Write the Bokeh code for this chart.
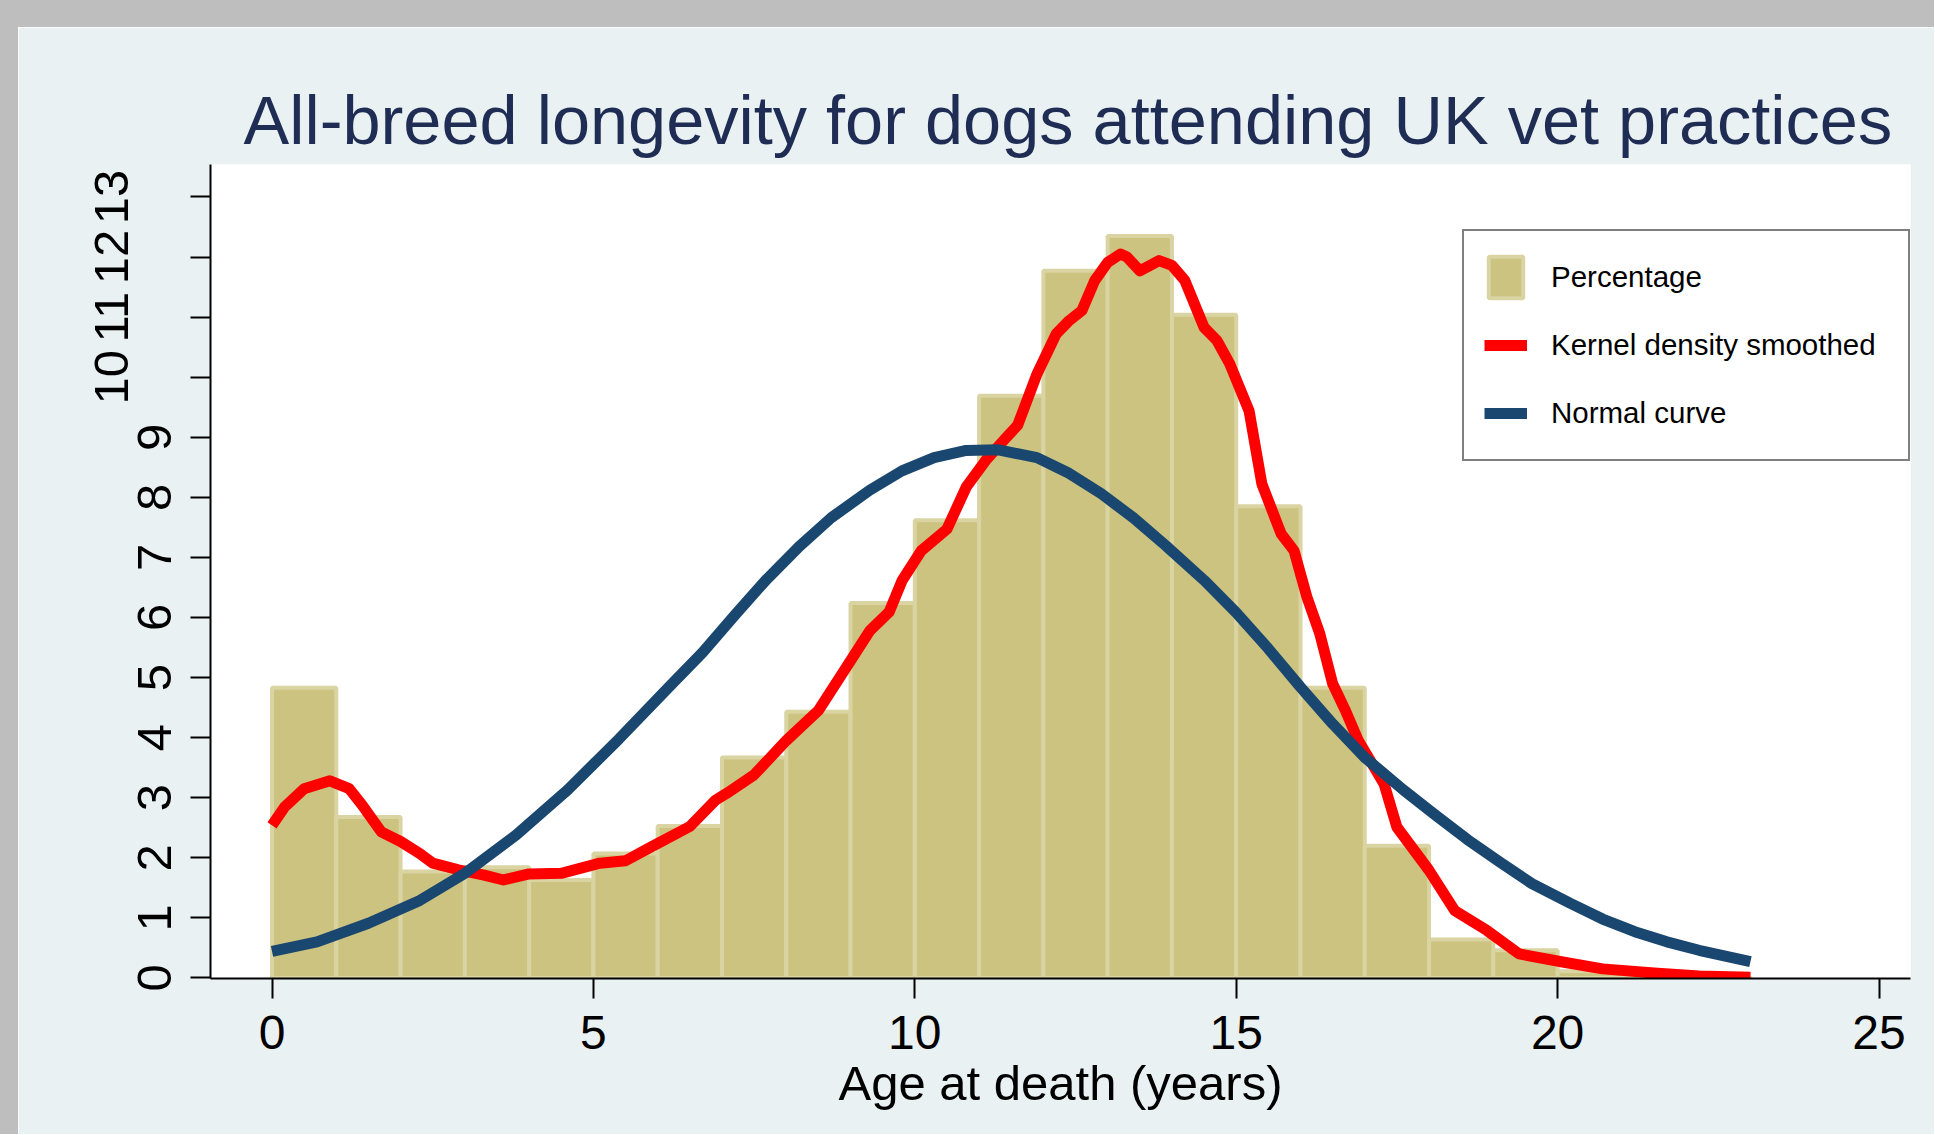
from bokeh.plotting import figure
from bokeh.models import Range1d, FixedTicker, LinearAxis, Legend, LegendItem, Spacer
from bokeh.layouts import column, row
from bokeh.embed import file_html
from bokeh.resources import INLINE

# ---------------- data ----------------
bin_start = [0, 1, 2, 3, 4, 5, 6, 7, 8, 9, 10, 11, 12, 13, 14, 15, 16, 17, 18, 19, 20, 21, 22]
bin_end = [1, 2, 3, 4, 5, 6, 7, 8, 9, 10, 11, 12, 13, 14, 15, 16, 17, 18, 19, 20, 21, 22, 23]
percentage = [4.83, 2.68, 1.77, 1.84, 1.63, 2.07, 2.53, 3.67, 4.43, 6.24, 7.62, 9.69,
              11.77, 12.35, 11.04, 7.85, 4.83, 2.20, 0.64, 0.46, 0.11, 0.03, 0.01]

kde_age = [0.0, 0.2, 0.5, 0.9, 1.2, 1.4, 1.7, 2.0, 2.3, 2.5,
           2.9, 3.3, 3.6, 4.0, 4.5, 5.1, 5.5, 5.9, 6.5, 6.9,
           7.1, 7.5, 8.0, 8.5, 9.0, 9.3, 9.6, 9.8, 10.1, 10.5,
           10.8, 11.1, 11.4, 11.6, 11.9, 12.2, 12.4, 12.6, 12.8, 13.0,
           13.2, 13.3, 13.5, 13.8, 14.0, 14.2, 14.5, 14.7, 14.9, 15.2,
           15.4, 15.7, 15.9, 16.1, 16.3, 16.5, 16.7, 16.9, 17.3, 17.5,
           18.0, 18.4, 18.9, 19.4, 20.1, 20.7, 21.5, 22.2, 23.0]
kde_pct = [2.54, 2.85, 3.15, 3.28, 3.15, 2.88, 2.43, 2.27, 2.07, 1.91,
           1.80, 1.71, 1.63, 1.73, 1.74, 1.91, 1.95, 2.18, 2.52, 2.96,
           3.09, 3.38, 3.95, 4.45, 5.28, 5.78, 6.09, 6.61, 7.11, 7.47,
           8.17, 8.61, 8.97, 9.20, 10.05, 10.72, 10.94, 11.11, 11.61, 11.91,
           12.05, 12.00, 11.77, 11.94, 11.86, 11.61, 10.83, 10.61, 10.22, 9.44,
           8.22, 7.39, 7.11, 6.34, 5.73, 4.90, 4.45, 3.95, 3.23, 2.51,
           1.79, 1.12, 0.79, 0.40, 0.26, 0.15, 0.08, 0.03, 0.01]

normal_age = [0.0, 0.7, 1.5, 2.3, 3.0, 3.8, 4.6, 5.4, 6.2, 6.7,
              7.2, 7.7, 8.2, 8.7, 9.3, 9.8, 10.3, 10.8, 11.3, 11.9,
              12.4, 12.9, 13.4, 13.9, 14.5, 15.0, 15.5, 16.0, 16.5, 17.0,
              17.6, 18.1, 18.6, 19.1, 19.6, 20.2, 20.7, 21.2, 21.7, 22.2, 23.0]
normal_pct = [0.44, 0.60, 0.91, 1.29, 1.74, 2.38, 3.13, 3.98, 4.87, 5.42,
              6.04, 6.64, 7.18, 7.66, 8.12, 8.44, 8.66, 8.78, 8.79, 8.66,
              8.40, 8.06, 7.66, 7.20, 6.62, 6.08, 5.48, 4.84, 4.23, 3.67,
              3.13, 2.71, 2.30, 1.93, 1.57, 1.24, 0.98, 0.77, 0.60, 0.46, 0.27]

x_ticks = [0, 5, 10, 15, 20, 25]
y_ticks_low = [0, 1, 2, 3, 4, 5, 6, 7, 8, 9, 10, 11, 12, 13]
y_ticks_high = [10, 11, 12, 13]

title_text = "All-breed longevity for dogs attending UK vet practices"
x_label = "Age at death (years)"
legend_labels = ["Percentage", "Kernel density smoothed", "Normal curve"]

# ---------------- styles ----------------
FONT = "Liberation Sans"
BG = "#E9F1F3"
GREY = "#BEBEBE"
BAR_FILL = "#CBC37F"
BAR_EDGE = "#D9D4A2"
RED = "#FF0000"
BLUE = "#1A476F"
TITLE_COLOR = "#1F2D54"

p = figure(width=1916, height=1107, output_backend="svg", toolbar_location=None,
           x_range=Range1d(-0.957, 25.49), y_range=Range1d(-0.01, 13.54),
           min_border_left=192, min_border_right=24, min_border_top=137,
           min_border_bottom=156)
p.background_fill_color = "white"
p.border_fill_color = BG
p.outline_line_color = None
p.xgrid.visible = False
p.ygrid.visible = False

p.title.text = title_text
p.title.text_font = FONT
p.title.text_font_size = "68.5px"
p.title.text_font_style = "normal"
p.title.text_color = TITLE_COLOR
p.title.align = "left"
p.title.offset = 33
p.title.standoff = 12

r_bar = p.quad(left=bin_start, right=bin_end, bottom=0, top=percentage,
               fill_color=BAR_FILL, line_color=BAR_EDGE, line_width=4)
r_kde = p.line(kde_age, kde_pct, line_color=RED, line_width=11, line_join="round")
r_norm = p.line(normal_age, normal_pct, line_color=BLUE, line_width=11, line_join="round")

def style_axis(ax, size="48px"):
    ax.major_label_text_font = FONT
    ax.major_label_text_font_size = size
    ax.major_label_text_color = "black"
    ax.axis_label_text_font = FONT
    ax.axis_label_text_font_style = "normal"
    ax.axis_label_text_color = "black"
    ax.minor_tick_line_color = None
    ax.minor_tick_in = 0
    ax.minor_tick_out = 0

xa = p.xaxis[0]
style_axis(xa)
xa.ticker = FixedTicker(ticks=x_ticks)
xa.axis_label = x_label
xa.axis_label_text_font_size = "49px"
xa.axis_label_standoff = 4
xa.major_tick_out = 20
xa.major_tick_in = 0
xa.major_label_standoff = 17
xa.axis_line_width = 2
xa.major_tick_line_width = 2

ya = p.yaxis[0]
style_axis(ya, "49px")
ya.ticker = FixedTicker(ticks=y_ticks_low)
ya.major_label_overrides = {t: "" for t in y_ticks_high}
ya.major_label_orientation = "vertical"
ya.major_tick_out = 20
ya.major_tick_in = 0
ya.major_label_standoff = 19
ya.axis_line_width = 2
ya.major_tick_line_width = 2

ya2 = LinearAxis(ticker=FixedTicker(ticks=y_ticks_high))
style_axis(ya2, "49px")
ya2.axis_line_color = None
ya2.major_tick_line_color = None
ya2.major_tick_out = 0
ya2.major_tick_in = 0
ya2.major_label_standoff = 7
ya2.major_label_orientation = "vertical"
p.add_layout(ya2, "left")

legend = Legend(items=[LegendItem(label=legend_labels[0], renderers=[r_bar]),
                       LegendItem(label=legend_labels[1], renderers=[r_kde]),
                       LegendItem(label=legend_labels[2], renderers=[r_norm])],
                location=(1252, 517))
legend.glyph_width = 43
legend.glyph_height = 52
legend.spacing = 16
legend.padding = 20
legend.margin = 0
legend.label_standoff = 24
legend.label_width = 337
legend.label_text_font = FONT
legend.label_text_font_size = "29.5px"
legend.label_text_color = "black"
legend.border_line_color = "black"
legend.border_line_width = 2
legend.background_fill_color = "white"
legend.background_fill_alpha = 1
p.add_layout(legend)

top_strip = Spacer(width=1934, height=27, styles={"background-color": GREY})
left_strip = Spacer(width=18, height=1107, styles={"background-color": GREY})
page = column(top_strip, row(left_strip, p))

open("out.html", "w").write(file_html(page, INLINE))
